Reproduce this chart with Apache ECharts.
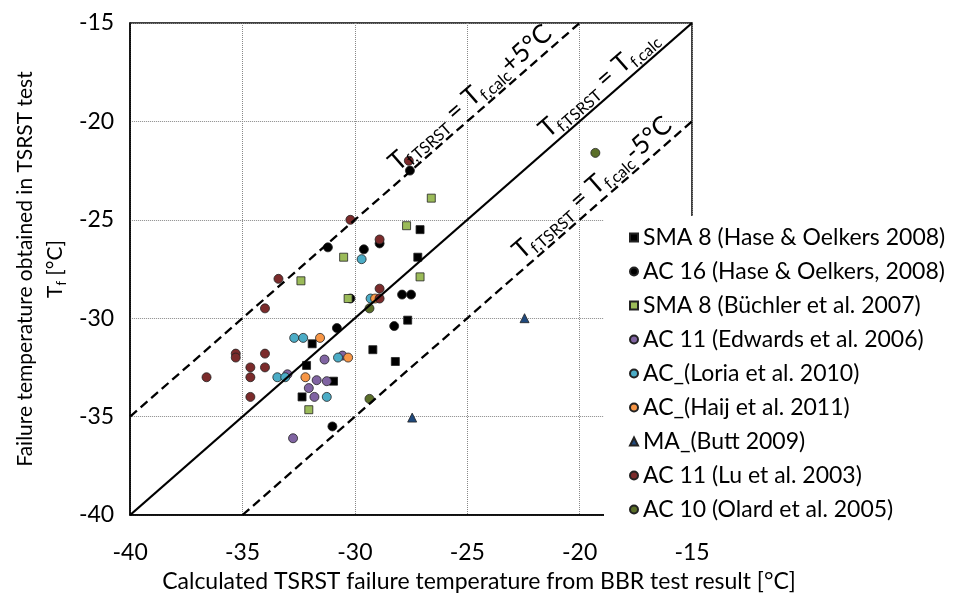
<!DOCTYPE html>
<html>
<head>
<meta charset="utf-8">
<script src="https://cdn.jsdelivr.net/npm/echarts@6/dist/echarts.min.js"></script>
<style>html,body{margin:0;padding:0;background:#fff}#c{width:958px;height:596px}</style>
</head>
<body>
<div id="c"></div>
<script>
// ---- data ----
const seriesNames = [
  'SMA 8 (Hase & Oelkers 2008)',
  'AC 16 (Hase & Oelkers, 2008)',
  'SMA 8 (Büchler et al. 2007)',
  'AC 11 (Edwards et al. 2006)',
  'AC_(Loria et al. 2010)',
  'AC_(Haij et al. 2011)',
  'MA_(Butt 2009)',
  'AC 11 (Lu et al. 2003)',
  'AC 10 (Olard et al. 2005)'
];
const sma8Hase = [[-27.1,-25.5],[-27.2,-26.9],[-27.65,-30.1],[-29.2,-31.6],[-28.2,-32.2],[-31.9,-31.3],[-32.15,-32.4],[-30.95,-33.2],[-32.35,-34.0]];
const ac16Hase = [[-27.55,-22.5],[-31.2,-26.4],[-29.6,-26.5],[-28.9,-26.2],[-30.2,-29.0],[-27.9,-28.8],[-27.5,-28.8],[-28.25,-30.4],[-30.8,-30.5],[-31.0,-35.5]];
const sma8Buechler = [[-26.6,-23.9],[-27.7,-25.3],[-27.1,-27.9],[-30.5,-26.9],[-32.4,-28.1],[-30.3,-29.0],[-32.05,-34.65]];
const ac11Edwards = [[-31.35,-32.1],[-30.55,-31.9],[-31.7,-33.15],[-31.25,-33.2],[-32.05,-33.55],[-31.8,-34.0],[-32.75,-36.1],[-33.0,-32.85]];
const acLoria = [[-29.7,-27.0],[-29.3,-29.0],[-32.7,-31.0],[-32.3,-31.0],[-30.75,-32.0],[-33.45,-33.0],[-33.1,-33.0],[-31.25,-34.0]];
const acHaij = [[-29.1,-29.0],[-31.55,-31.0],[-30.3,-32.0],[-32.2,-33.0]];
const maButt = [[-22.45,-30.0],[-27.45,-35.05]];
const ac11Lu = [[-30.2,-25.0],[-27.6,-22.0],[-28.9,-26.0],[-28.9,-29.0],[-28.9,-28.5],[-33.4,-28.0],[-34.0,-29.5],[-35.3,-31.8],[-35.3,-32.0],[-34.0,-31.8],[-34.65,-32.5],[-34.0,-32.5],[-36.6,-33.0],[-34.65,-33.0],[-34.65,-34.0]];
const ac10Olard = [[-29.35,-29.5],[-29.35,-34.1],[-19.3,-21.6]];
const axisMin = -40, axisMax = -15, axisStep = 5;
const lineEqual = [[-40,-40],[-15,-15]];
const linePlus5 = [[-40,-35],[-20,-15]];
const lineMinus5 = [[-35,-40],[-15,-20]];

const FONT = 'Lato';
const chart = echarts.init(document.getElementById('c'), null, {renderer:'canvas'});

function scatter(name, data, symbol, color, size) {
  return {
    name, type:'scatter', data, symbol, symbolSize:size,
    itemStyle:{color, borderColor:'#222', borderWidth:0.8, opacity:1},
    z:3
  };
}
const rich = {
  b:{fontFamily:FONT, fontSize:26, color:'#000', lineHeight:32},
  s:{fontFamily:FONT, fontSize:16, color:'#000', lineHeight:16, verticalAlign:'bottom'}
};
function refLine(pts, type, text, pad) {
  return {
    type:'line', data:[], silent:true, z:2,
    markLine:{
      silent:true, symbol:['none','none'], animation:false,
      lineStyle:{color:'#000', width:2.3, type},
      label:{show:true, position:'insideEndTop', formatter:text, rich, padding:pad, distance:0},
      data:[[{coord:pts[0]},{coord:pts[1]}]]
    }
  };
}

const option = {
  animation:false,
  textStyle:{fontFamily:FONT},
  title:{
    text:'Calculated TSRST failure temperature from BBR test result [°C]',
    left:'center', top:565,
    textStyle:{fontFamily:FONT, fontSize:23, fontWeight:'normal', color:'#000'}
  },
  grid:{left:130, right:266, top:23, bottom:81, show:true, borderColor:'#000', borderWidth:1.5, backgroundColor:'transparent'},
  legend:{
    data:seriesNames, orient:'vertical', left:604, top:216,
    padding:[10,5,10,25], itemGap:11, itemWidth:8, itemHeight:8, itemTextGap:6,
    backgroundColor:'#fff',
    textStyle:{fontFamily:FONT, fontSize:23, lineHeight:20, color:'#000'},
    z:10
  },
  xAxis:{
    type:'value', min:axisMin, max:axisMax, interval:axisStep,
    axisLine:{show:true, lineStyle:{color:'#000', width:1.5}},
    axisTick:{show:false},
    axisLabel:{fontFamily:FONT, fontSize:23, color:'#000', margin:26},
    splitLine:{show:true, lineStyle:{color:'#888', width:1, type:[1,1]}}
  },
  yAxis:{
    type:'value', min:axisMin, max:axisMax, interval:axisStep,
    axisLine:{show:true, lineStyle:{color:'#000', width:1.5}},
    axisTick:{show:false},
    axisLabel:{fontFamily:FONT, fontSize:23, color:'#000', margin:16},
    splitLine:{show:true, lineStyle:{color:'#888', width:1, type:[1,1]}},
    name:'Failure temperature obtained in TSRST test\n{t|T}{s|f}{t| [°C]}',
    nameLocation:'middle', nameGap:62, nameRotate:90,
    nameTextStyle:{fontFamily:FONT, fontSize:21, color:'#000', lineHeight:34,
      rich:{t:{fontFamily:FONT, fontSize:21, color:'#000', lineHeight:26}, s:{fontFamily:FONT, fontSize:13, color:'#000', lineHeight:13, verticalAlign:'bottom'}}}
  },
  series:[
    refLine(lineEqual, 'solid', '{b|T}{s|f,TSRST}{b| = T}{s|f,calc}', [0,36,0,0]),
    refLine(linePlus5, [9,5], '{b|T}{s|f,TSRST}{b| = T}{s|f,calc}{b|+5°C}', [0,28,0,0]),
    refLine(lineMinus5, [9,5], '{b|T}{s|f,TSRST}{b| = T}{s|f,calc}{b|-5°C}', [0,18,0,0]),
    scatter(seriesNames[0], sma8Hase, 'rect', '#000', 8),
    scatter(seriesNames[1], ac16Hase, 'circle', '#000', 9),
    scatter(seriesNames[2], sma8Buechler, 'rect', '#9BBB59', 8),
    scatter(seriesNames[3], ac11Edwards, 'circle', '#8064A2', 9),
    scatter(seriesNames[4], acLoria, 'circle', '#4BACC6', 9),
    scatter(seriesNames[5], acHaij, 'circle', '#F79646', 9),
    scatter(seriesNames[6], maButt, 'triangle', '#1F497D', 9),
    scatter(seriesNames[7], ac11Lu, 'circle', '#7B2B2B', 9),
    scatter(seriesNames[8], ac10Olard, 'circle', '#5A6E28', 9)
  ]
};
chart.setOption(option);
</script>
</body>
</html>
